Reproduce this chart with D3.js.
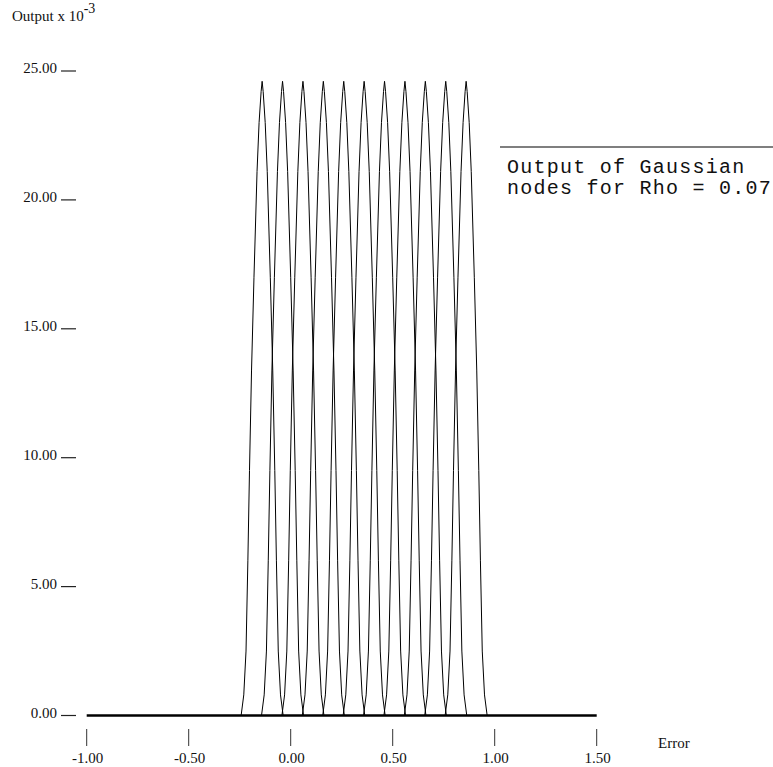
<!DOCTYPE html>
<meta charset="utf-8">
<style>
body { margin: 0; background: #fff; }
svg text { fill: #111; }
.serif { font-family: "Liberation Serif", "Times New Roman", serif; font-size: 15px; }
.mono { font-family: "Liberation Mono", "Courier New", monospace; font-size: 20px; letter-spacing: 1.25px; }
</style>
<body>
<div id="chart"></div>
<script src="https://cdn.jsdelivr.net/npm/d3@7"></script>
<script>

var width = 773;
var height = 767;

// tick values
var xTicks = [-1.00, -0.50, 0.00, 0.50, 1.00, 1.50];
var yTicks = [0, 5, 10, 15, 20, 25];

// centres of the gaussian nodes
var centers = [-0.14, -0.04, 0.06, 0.16, 0.26, 0.36, 0.46, 0.56, 0.66, 0.76, 0.86];

// one node's profile (distance from centre, output x 10^-3)
var shapeOffset = [0, 0.005, 0.015, 0.025, 0.040, 0.052, 0.062, 0.070, 0.079, 0.090, 0.103];
var shapeValue  = [24.6, 24.2, 23.0, 21.1, 17.0, 13.4, 9.5, 6.0, 2.5, 0.8, 0];

var svg = d3.select("#chart")
            .append("svg")
            .attr("width", width)
            .attr("height", height);

var x = d3.scaleLinear().domain([-1, 1.5]).range([86.7, 596.7]);
var y = d3.scaleLinear().domain([0, 25]).range([715.5, 71]);

// plain hyphen for negatives, like the original plot
var fmt = function(d) { return d3.format(".2f")(d).replace("\u2212", "-"); };

// y axis: labels with a short underline tick
var yG = svg.append("g");
yG.selectAll("text")
  .data(yTicks)
  .enter()
  .append("text")
  .attr("class", "serif")
  .attr("x", 57)
  .attr("y", function(d) { return y(d) + 2; })
  .attr("text-anchor", "end")
  .text(fmt);

yG.selectAll("line")
  .data(yTicks)
  .enter()
  .append("line")
  .attr("x1", 61).attr("x2", 76)
  .attr("y1", function(d) { return y(d); })
  .attr("y2", function(d) { return y(d); })
  .attr("stroke", "#222")
  .attr("stroke-width", 1.2);

// y title
var yTitle = svg.append("text")
  .attr("class", "serif")
  .attr("x", 12)
  .attr("y", 21);
yTitle.append("tspan").text("Output x 10");
yTitle.append("tspan").attr("dy", -8).style("font-size", "14px").text("-3");

// x axis baseline
svg.append("line")
   .attr("x1", x(-1)).attr("x2", x(1.5))
   .attr("y1", y(0)).attr("y2", y(0))
   .attr("stroke", "#000")
   .attr("stroke-width", 2.5);

var xG = svg.append("g");
xG.selectAll("line")
  .data(xTicks)
  .enter()
  .append("line")
  .attr("x1", function(d) { return x(d); })
  .attr("x2", function(d) { return x(d); })
  .attr("y1", 729).attr("y2", 746)
  .attr("stroke", "#333")
  .attr("stroke-width", 1);

xG.selectAll("text")
  .data(xTicks)
  .enter()
  .append("text")
  .attr("class", "serif")
  .attr("x", function(d) { return x(d) + 1; })
  .attr("y", 763)
  .attr("text-anchor", "middle")
  .text(fmt);

svg.append("text")
   .attr("class", "serif")
   .attr("x", 658)
   .attr("y", 748)
   .text("Error");

// gaussian node curves
var line = d3.line()
             .x(function(d) { return x(d[0]); })
             .y(function(d) { return y(d[1]); });

var curves = centers.map(function(c) {
  var pts = [];
  for (var i = shapeOffset.length - 1; i > 0; i--) pts.push([c - shapeOffset[i], shapeValue[i]]);
  for (var j = 0; j < shapeOffset.length; j++) pts.push([c + shapeOffset[j], shapeValue[j]]);
  return pts;
});

svg.append("g")
   .selectAll("path")
   .data(curves)
   .enter()
   .append("path")
   .attr("d", line)
   .attr("fill", "none")
   .attr("stroke", "#000")
   .attr("stroke-width", 1);

// legend box text
svg.append("line")
   .attr("x1", 500).attr("x2", 773)
   .attr("y1", 147).attr("y2", 147)
   .attr("stroke", "#000")
   .attr("stroke-width", 1.2);

svg.append("text").attr("class", "mono").attr("x", 507).attr("y", 173).text("Output of Gaussian");
svg.append("text").attr("class", "mono").attr("x", 507).attr("y", 194).text("nodes for Rho = 0.07");

</script>
</body>
